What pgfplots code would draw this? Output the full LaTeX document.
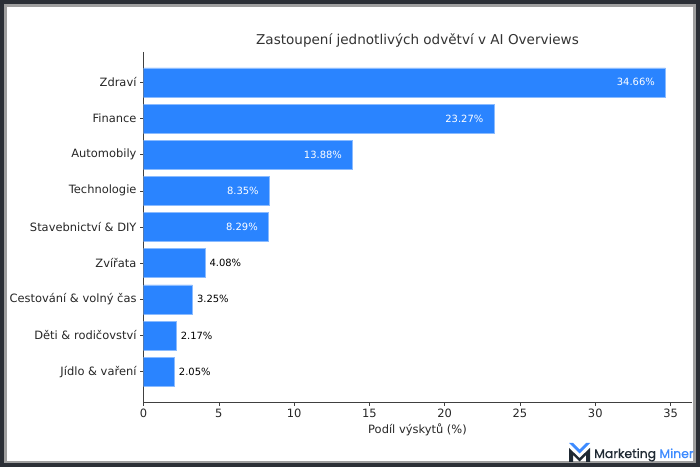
\documentclass[border=0pt]{standalone}
\usepackage{pgfplots}
\pgfplotsset{compat=1.18}
\usepackage{fontspec}
\setmainfont{DejaVu Sans}
\newfontfamily\logofont{Poppins}[FakeBold=0.7]
\definecolor{barblue}{HTML}{2A84FF}
\definecolor{framedark}{HTML}{2B2F36}
\definecolor{logoblue}{HTML}{3D8BFF}
\definecolor{logodark}{HTML}{1F2933}
\definecolor{txt}{HTML}{262626}
\begin{document}
\begin{tikzpicture}[x=1bp,y=1bp]
\useasboundingbox (0,0) rectangle (700,467);
\fill[framedark] (0,0) rectangle (700,467);
\fill[gray!75] (4,4) rectangle (696,463);
\fill[white] (7,6) rectangle (693,460);
\begin{axis}[
  at={(143.5bp,65bp)}, anchor=south west, scale only axis,
  width=548bp, height=350bp,
  xbar, bar width=0.8, bar shift=0pt,
  xmin=0, xmax=36.39, ymin=-0.84, ymax=8.84, y dir=reverse,
  axis x line*=bottom, axis y line*=left,
  axis line style={black!75, line width=0.7pt},
  tick style={black!75, line width=0.6pt},
  tick align=outside, major tick length=3.5bp,
  xtick={0,5,...,35},
  ytick={0,...,8},
  yticklabels={Zdraví,Finance,Automobily,Technologie,Stavebnictví \& DIY,Zvířata,Cestování \& volný čas,Děti \& rodičovství,Jídlo \& vaření},
  /pgf/number format/assume math mode=true,
  ticklabel style={font=\fontsize{11.5}{12}\selectfont, text=txt},
  xlabel={Podíl výskytů (\%)},
  xlabel style={font=\fontsize{11.5}{12}\selectfont, text=txt, yshift=1bp},
  title={Zastoupení jednotlivých odvětví v AI Overviews},
  title style={font=\fontsize{13.6}{14}\selectfont, text=black!80, yshift=-5bp},
  point meta=explicit symbolic,
]
\addplot[fill=barblue, draw=barblue!55!white, line width=0.5pt,
  nodes near coords, every node near coord/.style={anchor=east, xshift=-7bp, text=white, font=\fontsize{10}{10}\selectfont}]
  coordinates {
  (34.66,0) [34.66\%]
  (23.27,1) [23.27\%]
  (13.88,2) [13.88\%]
  (8.35,3) [8.35\%]
  (8.29,4) [8.29\%]
  };
\addplot[fill=barblue, draw=barblue!55!white, line width=0.5pt,
  nodes near coords, every node near coord/.style={anchor=west, xshift=1bp, text=black, font=\fontsize{10}{10}\selectfont}]
  coordinates {
  (4.08,5) [4.08\%]
  (3.25,6) [3.25\%]
  (2.17,7) [2.17\%]
  (2.05,8) [2.05\%]
  };
\end{axis}
% logo
\fill[logoblue] (569,24)--(573,24)--(579.5,17.5)--(586,24)--(590,24)--(579.5,13.5)--cycle;
\fill[logodark] (569,19)--(579.5,9)--(590,19)--(590,5)--(586,5)--(586,12)--(579.5,5.5)--(573,12)--(573,5)--(569,5)--cycle;
\node[anchor=base west, inner sep=0] at (594,9) {\logofont\fontsize{12.5}{12.5}\selectfont\color{logodark}Marketing \color{logoblue}Miner};
\end{tikzpicture}
\end{document}
